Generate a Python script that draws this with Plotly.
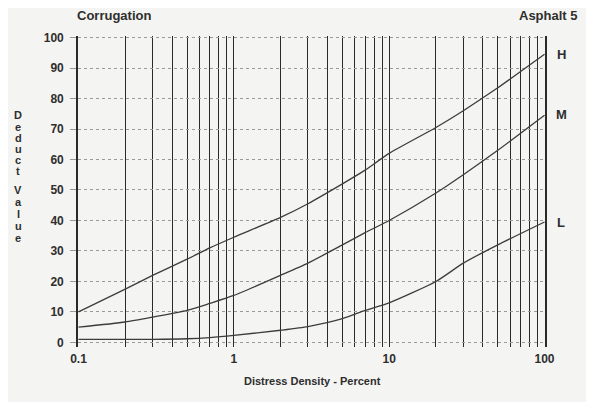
import plotly.graph_objects as go

# ---- data ----
density = [0.1, 0.2, 0.3, 0.5, 0.7, 1, 2, 3, 5, 7, 10, 20, 30, 50, 100]
high = [10, 17.5, 22, 27.3, 31, 34.5, 41, 45.5, 52, 56.5, 62, 70.5, 76, 83.5, 94.5]
medium = [5, 6.7, 8.3, 10.5, 12.8, 15.4, 22, 26, 32, 36, 40, 49, 55, 63, 74.5]
low = [1, 1, 1, 1.2, 1.6, 2.3, 4, 5.2, 7.8, 10.5, 13, 20, 26, 32, 39.5]

x_grid = [0.1, 0.2, 0.3, 0.4, 0.5, 0.6, 0.7, 0.8, 0.9,
          1, 2, 3, 4, 5, 6, 7, 8, 9,
          10, 20, 30, 40, 50, 60, 70, 80, 90, 100]
x_labels = {0.1: "0.1", 1: "1", 10: "10", 100: "100"}
y_ticks = [0, 10, 20, 30, 40, 50, 60, 70, 80, 90, 100]

FONT = "Liberation Sans"
TXT = "#2e2e2e"
LINE = "#3c3c3c"
BG = "#f4f4f2"

# the page body adds an 8px margin; figure is sized to fit the window
OFF = 8
W, H = 594 - OFF, 402 - OFF
ML, MT = 78 - OFF, 36 - OFF
MR = W - (545 - OFF)
MB = H - (347 - OFF)
PW, PH = W - ML - MR, H - MT - MB


def px(x):
    return (x - OFF - ML) / PW


def py(y):
    return (H - MB - (y - OFF)) / PH


fig = go.Figure()
for name, vals in [("H", high), ("M", medium), ("L", low)]:
    fig.add_trace(go.Scatter(
        x=density, y=vals, mode="lines", name=name,
        line=dict(color=LINE, width=1.3, shape="spline", smoothing=0.6),
        showlegend=False, hoverinfo="x+y"))

fig.update_layout(
    width=W, height=H,
    margin=dict(l=ML, r=MR, t=MT, b=MB),
    paper_bgcolor=BG, plot_bgcolor=BG,
    font=dict(family=FONT, color=TXT),
    xaxis=dict(
        type="log", range=[-1.003, 2.003],
        tickvals=x_grid,
        ticktext=[x_labels.get(v, "") for v in x_grid],
        showgrid=True, gridcolor="#2a2a2a", gridwidth=1.4,
        zeroline=False, showline=False, ticks="",
        tickfont=dict(family=FONT, size=12, color=TXT, weight="bold"),
        ticklabelstandoff=3,
    ),
    yaxis=dict(
        range=[-1.5, 100.5],
        tickvals=y_ticks,
        showgrid=True, gridcolor="#9a9a9a", gridwidth=1, griddash="dot",
        zeroline=False, showline=True, mirror=True,
        linecolor="#2a2a2a", linewidth=1.6,
        ticks="outside", ticklen=6, tickcolor="#9a9a9a",
        tickfont=dict(family=FONT, size=12, color=TXT, weight="bold"),
        ticklabelstandoff=4,
    ),
)

anns = [
    dict(text="Corrugation", x=75, y=15, xanchor="left", size=13),
    dict(text="Asphalt 5", x=580, y=15, xanchor="right", size=13),
    dict(text="Distress Density - Percent", x=312, y=381, xanchor="center", size=11),
    dict(text="H", x=561, y=55, xanchor="center", size=13),
    dict(text="M", x=561, y=114, xanchor="center", size=13),
    dict(text="L", x=561, y=222, xanchor="center", size=13),
]
for a in anns:
    fig.add_annotation(
        text=a["text"], x=px(a["x"]), y=py(a["y"]),
        xref="paper", yref="paper", xanchor=a["xanchor"], yanchor="middle",
        showarrow=False,
        font=dict(family=FONT, size=a["size"], color=TXT, weight="bold"))

# stacked vertical y-axis label
letters = ["D", "e", "d", "u", "c", "t", "V", "a", "l", "u", "e"]
letter_y = [115, 127, 138, 149, 160, 171, 190, 202, 214, 226, 238]
for ch, yy in zip(letters, letter_y):
    fig.add_annotation(
        text=ch, x=px(18), y=py(yy), xref="paper", yref="paper",
        xanchor="center", yanchor="middle", showarrow=False,
        font=dict(family=FONT, size=11, color=TXT, weight="bold"))

fig.write_html("out.html")
